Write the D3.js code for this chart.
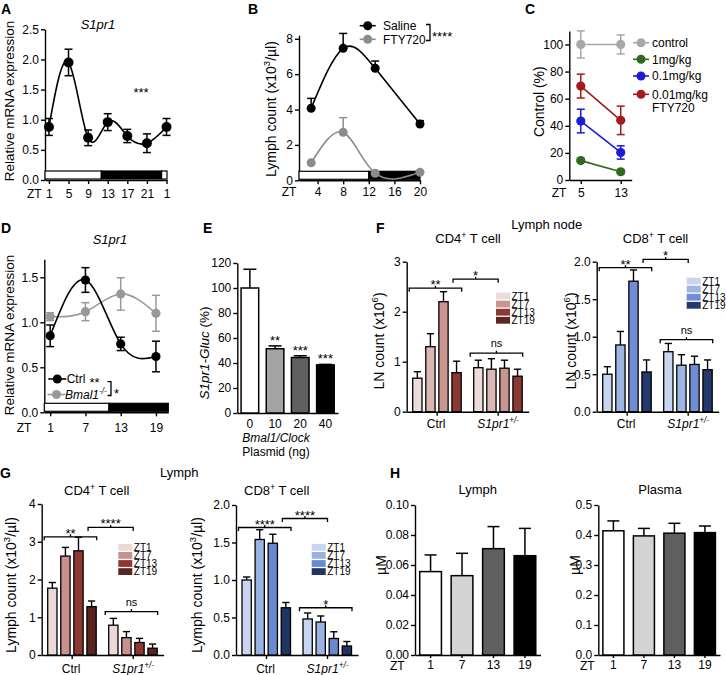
<!DOCTYPE html>
<html><head><meta charset="utf-8">
<script src="https://cdn.jsdelivr.net/npm/d3@7"></script>
<style>
body{margin:0;background:#fff}
svg{display:block}
</style></head><body>
<script>
// ================= DATA =================
// Panel A
const aZT = [1, 5, 9, 13, 17, 21, 25];
const aTickLabels = ["1", "5", "9", "13", "17", "21", "1"];
const aMean = [0.88, 1.95, 0.70, 0.96, 0.73, 0.61, 0.88];
const aErr = [0.14, 0.22, 0.13, 0.14, 0.11, 0.155, 0.14];
const aPhases = [[0.2, 11.7, "light"], [11.7, 24, "dark"], [24, 25.1, "light"]];
// Panel B
const bZT = [3, 8, 13, 20];
const bTicks = [4, 8, 12, 16, 20];
const bSaline = [4.07, 7.46, 6.33, 3.18];
const bSalineErr = [0.56, 0.84, 0.41, 0.19];
const bFTY = [0.99, 2.71, 0.40, 0.45];
const bFTYErr = [0, 0.83, 0, 0];
const bPhases = [[1.1, 12, "light"], [12, 20, "dark"]];
// Panel C
const cZT = [5, 13];
const cNames = ["control", "1mg/kg", "0.1mg/kg", "0.01mg/kg"];
const cControl = [100, 100], cControlErr = [10, 7];
const c1mg = [14.3, 6.1], c1mgErr = [1.2, 1.2];
const c01mg = [43.5, 20.3], c01mgErr = [8.7, 4.9];
const c001mg = [69.3, 44.0], c001mgErr = [8.8, 10.5];
// Panel D
const dZT = [1, 7, 13, 19];
const dCtrl = [0.85, 1.47, 0.76, 0.62], dCtrlErr = [0.12, 0.137, 0.074, 0.17];
const dBmal = [1.063, 1.118, 1.315, 1.10], dBmalErr = [0.044, 0.10, 0.18, 0.20];
const dPhases = [[0, 11, "light"], [11, 21.1, "dark"]];
// Panel E
const eDose = ["0", "10", "20", "40"];
const eMean = [100, 51.4, 44.4, 38.5];
const eErr = [15, 2.3, 1.4, 0.4];
const eStars = ["", "**", "***", "***"];
// Panels F, G
const groupNames = ["Ctrl", "S1pr1"];
const ztNames = ["ZT1", "ZT7", "ZT13", "ZT19"];
const fCD4Ctrl = [0.67, 1.30, 2.20, 0.78], fCD4CtrlErr = [0.13, 0.26, 0.20, 0.23];
const fCD4S1 = [0.88, 0.85, 0.87, 0.71], fCD4S1Err = [0.15, 0.21, 0.16, 0.14];
const fCD8Ctrl = [0.50, 0.89, 1.74, 0.53], fCD8CtrlErr = [0.10, 0.18, 0.15, 0.16];
const fCD8S1 = [0.80, 0.62, 0.63, 0.56], fCD8S1Err = [0.11, 0.14, 0.11, 0.13];
const gCD4Ctrl = [1.77, 2.62, 2.76, 1.28], gCD4CtrlErr = [0.15, 0.23, 0.36, 0.15];
const gCD4S1 = [0.79, 0.46, 0.33, 0.18], gCD4S1Err = [0.18, 0.16, 0.11, 0.11];
const gCD8Ctrl = [1.00, 1.54, 1.49, 0.63], gCD8CtrlErr = [0.04, 0.13, 0.12, 0.07];
const gCD8S1 = [0.48, 0.44, 0.22, 0.12], gCD8S1Err = [0.08, 0.08, 0.09, 0.06];
// Panel H
const hZT = ["1", "7", "13", "19"];
const hLymph = [0.0556, 0.0529, 0.0709, 0.0662], hLymphErr = [0.0111, 0.0149, 0.0147, 0.0182];
const hPlasma = [0.414, 0.397, 0.406, 0.408], hPlasmaErr = [0.033, 0.025, 0.033, 0.022];

// ================= HELPERS =================
const FONT = '"Liberation Sans", Arial, Helvetica, sans-serif';
const svg = d3.select("body").append("svg").attr("width", 726).attr("height", 675)
  .style("font-family", FONT);
svg.append("rect").attr("width", 726).attr("height", 675).attr("fill", "#fff");

function rich(g, x, y, parts, o = {}) {
  const size = o.size || 12;
  const t = g.append("text").attr("x", x).attr("y", y).attr("font-size", size)
    .attr("font-family", FONT).attr("fill", o.fill || "#000")
    .attr("text-anchor", o.anchor || "start");
  if (o.weight) t.attr("font-weight", o.weight);
  if (o.italic) t.attr("font-style", "italic");
  if (o.rotate) t.attr("transform", `rotate(-90,${x},${y})`);
  if (typeof parts === "string") parts = [{ t: parts }];
  let shifted = 0;
  parts.forEach(p => {
    const ts = t.append("tspan").text(p.t);
    if (p.it) ts.attr("font-style", "italic");
    const want = p.sup ? -0.4 * size : 0;
    if (want !== shifted) { ts.attr("dy", want - shifted); shifted = want; }
    if (p.sup) ts.attr("font-size", 0.68 * size);
  });
  return t;
}
function styleAxis(a, fs = 12) {
  a.attr("font-family", null).attr("font-size", null);
  a.select(".domain").attr("stroke", "#000").attr("stroke-width", 1.4);
  a.selectAll(".tick line").attr("stroke", "#000").attr("stroke-width", 1.4);
  a.selectAll(".tick text").attr("font-size", fs).attr("font-family", FONT).attr("fill", "#000");
  return a;
}
function yAxis(g, y, x, ticks, fmt) {
  return styleAxis(g.append("g").attr("transform", `translate(${x},0)`)
    .call(d3.axisLeft(y).tickValues(ticks).tickFormat(fmt).tickSize(4).tickSizeOuter(0).tickPadding(2)));
}
function xAxis(g, x, yPos, ticks, fmt, pad = 4, ts = 4) {
  const ax = d3.axisBottom(x).tickSize(ts).tickSizeOuter(0).tickPadding(pad);
  if (ticks) ax.tickValues(ticks);
  if (fmt) ax.tickFormat(fmt);
  return styleAxis(g.append("g").attr("transform", `translate(0,${yPos})`).call(ax));
}
function phaseBar(g, x, y0, phases) {
  g.selectAll(null).data(phases).enter().append("rect")
    .attr("x", d => x(d[0])).attr("width", d => x(d[1]) - x(d[0]))
    .attr("y", y0 - 9).attr("height", 8)
    .attr("fill", d => d[2] === "dark" ? "#000" : "#fff")
    .attr("stroke", "#000").attr("stroke-width", 1.2);
}
function errBars(g, x, y, xs, m, e, color, both, cap = 8, w = 1.5) {
  xs.forEach((xv, i) => {
    if (!e[i]) return;
    const cx = x(xv), yt = y(m[i] + e[i]), yb = both ? y(m[i] - e[i]) : y(m[i]);
    g.append("line").attr("x1", cx).attr("x2", cx).attr("y1", yt).attr("y2", yb)
      .attr("stroke", color).attr("stroke-width", w);
    g.append("line").attr("x1", cx - cap / 2).attr("x2", cx + cap / 2).attr("y1", yt).attr("y2", yt)
      .attr("stroke", color).attr("stroke-width", w);
    if (both) g.append("line").attr("x1", cx - cap / 2).attr("x2", cx + cap / 2).attr("y1", yb).attr("y2", yb)
      .attr("stroke", color).attr("stroke-width", w);
  });
}
function series(g, x, y, xs, m, color, curve, r = 4.6, clip) {
  const pts = xs.map((v, i) => [v, m[i]]);
  const p = g.append("path").attr("d", d3.line().x(d => x(d[0])).y(d => y(d[1])).curve(curve)(pts))
    .attr("fill", "none").attr("stroke", color).attr("stroke-width", 1.6);
  if (clip) p.attr("clip-path", clip);
  g.selectAll(null).data(pts).enter().append("circle")
    .attr("cx", d => x(d[0])).attr("cy", d => y(d[1])).attr("r", r).attr("fill", color);
}
function legendMarker(g, x, y, color, len = 12, r = 4.5) {
  g.append("line").attr("x1", x - len / 2 - 2).attr("x2", x + len / 2 + 2).attr("y1", y).attr("y2", y)
    .attr("stroke", color).attr("stroke-width", 1.6);
  g.append("circle").attr("cx", x).attr("cy", y).attr("r", r).attr("fill", color);
}
function bracket(g, xa, xb, y, label, ns) {
  g.append("path").attr("d", `M${xa},${y + 3.5}V${y}H${xb}V${y + 3.5}M${(xa + xb) / 2},${y}V${y - 2.5}`)
    .attr("fill", "none").attr("stroke", "#000").attr("stroke-width", 1.3);
  rich(g, (xa + xb) / 2, ns ? y - 6 : y + 1, label, { anchor: "middle", size: ns ? 11 : 13 });
}
const S1 = () => [{ t: "S1pr1", it: true }, { t: "+/-", sup: true, it: true }];
const letter = (x, y, s) => rich(svg, x, y, s, { size: 14, weight: "bold" });

// ================= PANEL A =================
{
  const g = svg.append("g");
  const x = d3.scaleLinear().domain([0.2, 25.1]).range([45, 167]);
  const y = d3.scaleLinear().domain([0, 2.5]).range([180, 29.3]);
  yAxis(g, y, 45, [0, 0.5, 1, 1.5, 2, 2.5], d3.format(".1f"));
  xAxis(g, x, 180, aZT, (d, i) => aTickLabels[i], 5.5);
  phaseBar(g, x, y(0), aPhases);
  errBars(g, x, y, aZT, aMean, aErr, "#000", true, 8);
  series(g, x, y, aZT, aMean, "#000", d3.curveNatural, 5);
  rich(g, 27, 198, "ZT");
  rich(g, 98, 29, [{ t: "S1pr1", it: true }], { anchor: "middle", size: 13 });
  rich(g, 141, 97, "***", { anchor: "middle", size: 13 });
  rich(g, 14, 101, "Relative mRNA expression", { anchor: "middle", rotate: true, size: 13.5 });
  letter(1, 14, "A");
}
// ================= PANEL B =================
{
  const g = svg.append("g");
  const x = d3.scaleLinear().domain([1.1, 20]).range([299, 420]);
  const y = d3.scaleLinear().domain([0, 8.2]).range([180.3, 35.2]);
  yAxis(g, y, 299, [0, 2, 4, 6, 8], d3.format("d"));
  xAxis(g, x, 180.3, bTicks, d3.format("d"), 3.2);
  phaseBar(g, x, y(0), bPhases);
  svg.append("clipPath").attr("id", "clipB").append("rect")
    .attr("x", x(1.1)).attr("y", 0).attr("width", x(20) - x(1.1) + 10).attr("height", y(0) + 0.5);
  errBars(g, x, y, bZT, bFTY, bFTYErr, "#8c8c8c", false, 8);
  series(g, x, y, bZT, bFTY, "#8c8c8c", d3.curveNatural, 4.5, "url(#clipB)");
  errBars(g, x, y, bZT, bSaline, bSalineErr, "#000", false, 8);
  series(g, x, y, bZT, bSaline, "#000", d3.curveNatural, 4.5);
  rich(g, 281.7, 196, "ZT");
  legendMarker(g, 367.7, 25.7, "#000");
  legendMarker(g, 367.7, 39.3, "#8c8c8c");
  rich(g, 383, 30, "Saline", { size: 12 });
  rich(g, 383, 43.6, "FTY720", { size: 12 });
  g.append("path").attr("d", "M426,24.5H430V40.5H426").attr("fill", "none").attr("stroke", "#000").attr("stroke-width", 1.3);
  rich(g, 432, 41, "****", { size: 13 });
  rich(g, 275.5, 109, [{ t: "Lymph count (x10" }, { t: "3", sup: true }, { t: "/µl)" }], { anchor: "middle", rotate: true, size: 14 });
  letter(248, 14, "B");
}
// ================= PANEL C =================
{
  const g = svg.append("g");
  const x = d3.scaleLinear().domain([2.7, 15.2]).range([569.3, 631.7]);
  const y = d3.scaleLinear().domain([0, 110]).range([180, 30.9]);
  yAxis(g, y, 569.3, [0, 20, 40, 60, 80, 100], d3.format("d"));
  xAxis(g, x, 180, cZT, d3.format("d"), 4.5);
  const cVals = [cControl, c1mg, c01mg, c001mg];
  const cErrs = [cControlErr, c1mgErr, c01mgErr, c001mgErr];
  const cColors = ["#a8a8a8", "#2f6a1e", "#1c1cd6", "#a01d1b"];
  cVals.forEach((v, i) => {
    errBars(g, x, y, cZT, v, cErrs[i], cColors[i], true, 8);
    series(g, x, y, cZT, v, cColors[i], d3.curveLinear, 4.6);
  });
  const rows = [42.7, 59.3, 76, 94.3];
  cNames.forEach((n, i) => {
    legendMarker(g, 641, rows[i], cColors[i]);
    rich(g, 652, rows[i] + 4.3, n, { size: 12 });
  });
  rich(g, 652, 111.7, "FTY720", { size: 12 });
  rich(g, 551.7, 197, "ZT");
  rich(g, 544, 101.7, "Control (%)", { anchor: "middle", rotate: true, size: 14 });
  letter(525, 14, "C");
}
// ================= PANEL D =================
{
  const g = svg.append("g");
  const x = d3.scaleLinear().domain([0, 21.1]).range([44.3, 168.3]);
  const y = d3.scaleLinear().domain([0, 1.7]).range([412.3, 259.3]);
  yAxis(g, y, 44.3, [0, 0.5, 1, 1.5], d3.format(".1f"));
  xAxis(g, x, 412.3, dZT, d3.format("d"), 7);
  phaseBar(g, x, y(0), dPhases);
  errBars(g, x, y, dZT, dBmal, dBmalErr, "#999", true, 8);
  series(g, x, y, dZT, dBmal, "#999", d3.curveNatural, 4.6);
  errBars(g, x, y, dZT, dCtrl, dCtrlErr, "#000", true, 8);
  series(g, x, y, dZT, dCtrl, "#000", d3.curveNatural, 4.6);
  rich(g, 16.7, 432, "ZT");
  rich(g, 110, 244, [{ t: "S1pr1", it: true }], { anchor: "middle", size: 13 });
  legendMarker(g, 57.3, 379, "#000", 14);
  legendMarker(g, 56.5, 394.5, "#999", 14);
  rich(g, 66.7, 383.3, "Ctrl", { size: 12 });
  rich(g, 89.5, 386.5, "**", { size: 13 });
  rich(g, 65, 398.8, [{ t: "Bmal1", it: true }, { t: "-/-", sup: true, it: true }], { size: 12 });
  g.append("path").attr("d", "M107.5,381.7H111V395.5H107.5").attr("fill", "none").attr("stroke", "#000").attr("stroke-width", 1.3);
  rich(g, 114, 398, "*", { size: 13 });
  rich(g, 14, 335, "Relative mRNA expression", { anchor: "middle", rotate: true, size: 13.5 });
  letter(1, 233, "D");
}
// ================= PANEL E =================
{
  const g = svg.append("g");
  const x = d3.scaleBand().domain(eDose).range([237.3, 338]).paddingInner(0.3).paddingOuter(0.15);
  const y = d3.scaleLinear().domain([0, 120]).range([413, 263]);
  const eColors = ["#ffffff", "#a4a4a7", "#606060", "#000000"];
  yAxis(g, y, 237.3, [0, 20, 40, 60, 80, 100, 120], d3.format("d"));
  xAxis(g, x, 413, null, null, 6.5, 0);
  eDose.forEach((d, i) => {
    const cx = x(d) + x.bandwidth() / 2;
    g.append("line").attr("x1", cx).attr("x2", cx).attr("y1", y(eMean[i])).attr("y2", y(eMean[i] + eErr[i])).attr("stroke", "#000").attr("stroke-width", 1.5);
    g.append("line").attr("x1", cx - 6.5).attr("x2", cx + 6.5).attr("y1", y(eMean[i] + eErr[i])).attr("y2", y(eMean[i] + eErr[i])).attr("stroke", "#000").attr("stroke-width", 1.5);
    g.append("rect").attr("x", x(d)).attr("width", x.bandwidth()).attr("y", y(eMean[i]))
      .attr("height", y(0) - y(eMean[i])).attr("fill", eColors[i]).attr("stroke", "#000").attr("stroke-width", 1.5);
    if (eStars[i]) rich(g, cx, y(eMean[i] + eErr[i]) - 1, eStars[i], { anchor: "middle", size: 13 });
  });
  rich(g, 276, 441.5, [{ t: "Bmal1/Clock", it: true }], { anchor: "middle", size: 12 });
  rich(g, 276, 455.5, "Plasmid (ng)", { anchor: "middle", size: 12 });
  rich(g, 209, 353, [{ t: "S1pr1-Gluc", it: true }, { t: " (%)" }], { anchor: "middle", rotate: true, size: 13.5 });
  letter(203, 233, "E");
}
// ================= GROUPED BAR PANELS (F, G) =================
function grouped(c) {
  const g = svg.append("g");
  const y = d3.scaleLinear().domain(c.yDom).range(c.yRange);
  const gx = d3.scaleBand().domain(groupNames).range([c.x0, c.x0 + 122]);
  const ix = d3.scaleBand().domain(ztNames).range([6, 54.5]).paddingInner(0.29);
  yAxis(g, y, c.x0, c.ticks, c.fmt);
  xAxis(g, gx, c.yRange[0], null, () => "", 3, 4);
  const data = [[c.ctrl, c.ctrlErr], [c.s1, c.s1Err]];
  groupNames.forEach((gn, gi) => {
    const [m, e] = data[gi];
    ztNames.forEach((z, i) => {
      const bx = gx(gn) + ix(z), cx = bx + ix.bandwidth() / 2;
      const yt = y(m[i] + e[i]);
      g.append("line").attr("x1", cx).attr("x2", cx).attr("y1", y(m[i])).attr("y2", yt).attr("stroke", "#000").attr("stroke-width", 1.4);
      g.append("line").attr("x1", cx - 3.6).attr("x2", cx + 3.6).attr("y1", yt).attr("y2", yt).attr("stroke", "#000").attr("stroke-width", 1.4);
      g.append("rect").attr("x", bx).attr("width", ix.bandwidth()).attr("y", y(m[i]))
        .attr("height", y(0) - y(m[i])).attr("fill", c.colors[i]).attr("stroke", "#000").attr("stroke-width", 1.3);
    });
  });
  const gc = gn => gx(gn) + gx.bandwidth() / 2;
  rich(g, gc("Ctrl") - 1, c.labelY, "Ctrl", { anchor: "middle", size: 12 });
  rich(g, gc("S1pr1"), c.labelY, S1(), { anchor: "middle", size: 12 });
  // brackets
  const ctrlA = gx("Ctrl") + 2.5, ctrlB = gx("Ctrl") + 55;
  const s1A = gx("S1pr1") + 2.5, s1B = gx("S1pr1") + 55;
  const z19 = gx("Ctrl") + ix("ZT19") + ix.bandwidth() / 2 - 3.5;
  bracket(g, ctrlA, ctrlB, y(c.br[0]), c.brLab[0]);
  bracket(g, z19, gc("S1pr1"), y(c.br[1]), c.brLab[1]);
  bracket(g, s1A, s1B, y(c.br[2]), c.brLab[2], c.brLab[2] === "ns");
  // legend
  ztNames.forEach((z, i) => {
    const ry = c.leg[1] + i * c.leg[2];
    g.append("rect").attr("x", c.leg[0]).attr("y", ry - 3.4).attr("width", 14).attr("height", 6.8).attr("fill", c.legColors[i]);
    rich(g, c.leg[0] + 15.5, ry + 3.6, z, { size: 10 });
  });
  rich(g, c.title[0], c.title[1], [{ t: c.cell }, { t: "+", sup: true }, { t: " T cell" }], { anchor: "middle", size: 13 });
  rich(g, c.yl[0], c.yl[1], c.ylabel, { anchor: "middle", rotate: true, size: 14 });
}
const fRedBars = ["#ecdcda", "#dbb8b4", "#c8958f", "#8b3934"];
const fRedLeg = ["#ecdcda", "#c8958f", "#8b3934", "#5e2522"];
const gReds = ["#ebd9d7", "#c8918c", "#8c3934", "#5a2421"];
const fBlues = ["#c8d5f0", "#9fb5e4", "#6f8ed5", "#233a6a"];
const gBlues = ["#c9d5f0", "#9cb2e2", "#6b89d0", "#1f3461"];
const lnLabel = [{ t: "LN count (x10" }, { t: "6", sup: true }, { t: ")" }];
const lyLabel = [{ t: "Lymph count (x10" }, { t: "3", sup: true }, { t: "/µl)" }];
grouped({ x0: 406.7, yDom: [0, 3], yRange: [411.7, 261.7], ticks: [0, 1, 2, 3], fmt: d3.format("d"),
  ctrl: fCD4Ctrl, ctrlErr: fCD4CtrlErr, s1: fCD4S1, s1Err: fCD4S1Err, colors: fRedBars, legColors: fRedLeg,
  labelY: 428, br: [2.47, 2.65, 1.17], brLab: ["**", "*", "ns"], leg: [496, 296, 8.1],
  title: [468, 243], cell: "CD4", yl: [384, 341], ylabel: lnLabel });
grouped({ x0: 596.7, yDom: [0, 2], yRange: [411.7, 261.7], ticks: [0, 0.5, 1, 1.5, 2], fmt: d3.format(".1f"),
  ctrl: fCD8Ctrl, ctrlErr: fCD8CtrlErr, s1: fCD8S1, s1Err: fCD8S1Err, colors: fBlues, legColors: fBlues,
  labelY: 428, br: [1.92, 2.03, 0.96], brLab: ["**", "*", "ns"], leg: [686.7, 281, 8.1],
  title: [655.5, 243], cell: "CD8", yl: [575.5, 341], ylabel: lnLabel });
grouped({ x0: 41.7, yDom: [0, 4], yRange: [655, 504], ticks: [0, 1, 2, 3, 4], fmt: d3.format("d"),
  ctrl: gCD4Ctrl, ctrlErr: gCD4CtrlErr, s1: gCD4S1, s1Err: gCD4S1Err, colors: gReds, legColors: gReds,
  labelY: 672.5, br: [3.13, 3.38, 1.15], brLab: ["**", "****", "ns"], leg: [118.3, 547.3, 8.1],
  title: [96.7, 495], cell: "CD4", yl: [15.5, 585], ylabel: lyLabel });
grouped({ x0: 236, yDom: [0, 2], yRange: [655, 505], ticks: [0, 0.5, 1, 1.5, 2], fmt: d3.format(".1f"),
  ctrl: gCD8Ctrl, ctrlErr: gCD8CtrlErr, s1: gCD8S1, s1Err: gCD8S1Err, colors: gBlues, legColors: gBlues,
  labelY: 672.5, br: [1.70, 1.82, 0.63], brLab: ["****", "****", "*"], leg: [311.7, 547.3, 8.1],
  title: [276.7, 495], cell: "CD8", yl: [202, 585], ylabel: lyLabel });
rich(svg, 546.7, 229, "Lymph node", { anchor: "middle", size: 13 });
rich(svg, 179.3, 477, "Lymph", { anchor: "middle", size: 13 });
letter(376, 233, "F");
letter(0, 478, "G");

// ================= PANEL H =================
function hPanel(c) {
  const g = svg.append("g");
  const x = d3.scaleBand().domain(hZT).range([c.x0, c.x1]).paddingInner(0.31).paddingOuter(0.15);
  const y = d3.scaleLinear().domain(c.yDom).range([655, 505]);
  const cols = ["#ffffff", "#d3d3d3", "#5f5f5f", "#000000"];
  yAxis(g, y, c.x0, c.ticks, c.fmt);
  xAxis(g, x, 655, null, null, 2, 3);
  hZT.forEach((z, i) => {
    const cx = x(z) + x.bandwidth() / 2, yt = y(c.m[i] + c.e[i]);
    g.append("line").attr("x1", cx).attr("x2", cx).attr("y1", y(c.m[i])).attr("y2", yt).attr("stroke", "#000").attr("stroke-width", 1.5);
    g.append("line").attr("x1", cx - 6).attr("x2", cx + 6).attr("y1", yt).attr("y2", yt).attr("stroke", "#000").attr("stroke-width", 1.5);
    g.append("rect").attr("x", x(z)).attr("width", x.bandwidth()).attr("y", y(c.m[i]))
      .attr("height", y(0) - y(c.m[i])).attr("fill", cols[i]).attr("stroke", "#000").attr("stroke-width", 1.5);
  });
  rich(g, c.zt, 670, "ZT");
  rich(g, c.title[0], 494, c.title[1], { anchor: "middle", size: 13 });
  rich(g, c.yl, 565, "µM", { anchor: "middle", rotate: true, size: 14 });
}
hPanel({ x0: 415, x1: 540.5, yDom: [0, 0.1], ticks: [0, 0.02, 0.04, 0.06, 0.08, 0.1], fmt: d3.format(".2f"),
  m: hLymph, e: hLymphErr, zt: 390, title: [477.7, "Lymph"], yl: 386 });
hPanel({ x0: 598.3, x1: 720, yDom: [0, 0.5], ticks: [0, 0.1, 0.2, 0.3, 0.4, 0.5], fmt: d3.format(".1f"),
  m: hPlasma, e: hPlasmaErr, zt: 580, title: [660, "Plasma"], yl: 580 });
letter(390, 478, "H");
</script>
</body></html>
